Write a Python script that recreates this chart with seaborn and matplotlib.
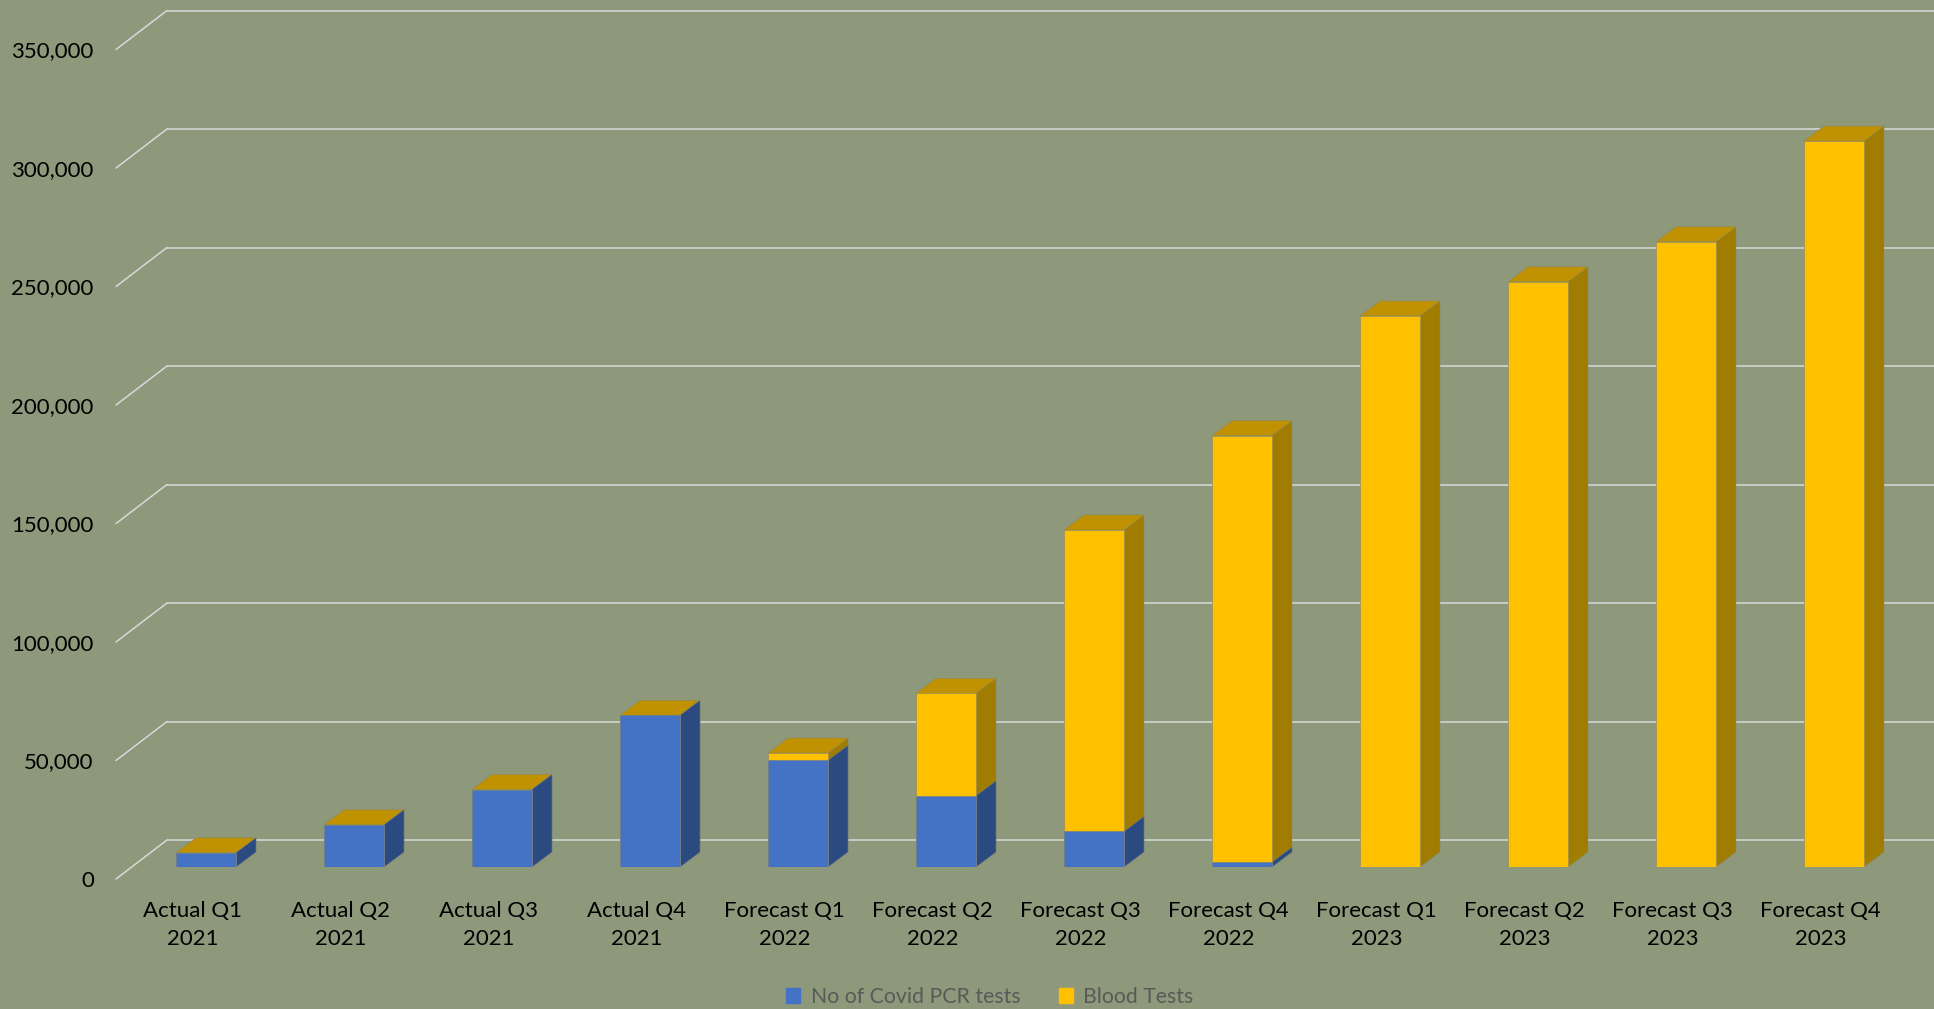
import matplotlib
matplotlib.use('Agg')
import pandas as pd
import matplotlib.pyplot as plt
import seaborn as sns
from matplotlib.patches import Polygon, Patch
from matplotlib.ticker import StrMethodFormatter
from matplotlib.transforms import ScaledTranslation

# %% data
quarters = ['Actual Q1\n2021', 'Actual Q2\n2021', 'Actual Q3\n2021', 'Actual Q4\n2021',
            'Forecast Q1\n2022', 'Forecast Q2\n2022', 'Forecast Q3\n2022', 'Forecast Q4\n2022',
            'Forecast Q1\n2023', 'Forecast Q2\n2023', 'Forecast Q3\n2023', 'Forecast Q4\n2023']
pcr_tests = [6000, 17800, 32700, 64000, 45000, 30000, 15000, 2000, 0, 0, 0, 0]
blood_tests = [0, 0, 0, 0, 3100, 43300, 127200, 180000, 232500, 246900, 263800, 306300]
y_ticks = [0, 50000, 100000, 150000, 200000, 250000, 300000, 350000]

bg = '#8E987B'
grid_col = '#D9D9D9'
blue, blue_side = '#4472C4', '#2B4A80'
gold, gold_side, gold_top = '#FFC000', '#A07D00', '#C09100'

sns.set_style('white', rc={'axes.facecolor': bg, 'figure.facecolor': bg})
plt.rcParams['font.family'] = ['Lato', 'DejaVu Sans']

W, H = 1934, 1009
fig = plt.figure(figsize=(W / 100, H / 100), dpi=100)
left, right, bottom, top = 132, 1899, 867, 37.5   # pixel box of the bar plane
slot = 148                                       # pixels per category
ax = fig.add_axes([left / W, 1 - bottom / H, (right - left) / W, (bottom - top) / H])

df = pd.DataFrame({'quarter': quarters, 'pcr': pcr_tests, 'blood': blood_tests})
df['total'] = df['pcr'] + df['blood']

bw = 60 / slot
sns.barplot(data=df, x='quarter', y='total', color=gold, saturation=1, width=bw,
            errorbar=None, ax=ax, zorder=4, edgecolor='#8a8a60', linewidth=0.4)
sns.barplot(data=df, x='quarter', y='pcr', color=blue, saturation=1, width=bw,
            errorbar=None, ax=ax, zorder=5, edgecolor='#6a7a90', linewidth=0.4)

xmax = -0.5 + (right - left) / slot
ax.set_xlim(-0.5, xmax)
ax.set_ylim(0, 350000)
px = 1 / slot
py = 350000 / (bottom - top)

# walls: back gridlines + diagonal floor edges
for v in y_ticks:
    ax.plot([-0.5 - 16 * px, -0.5 + 35 * px], [v - 12 * py, v + 27 * py],
            color=grid_col, lw=1.1, clip_on=False, zorder=1)
    ax.plot([-0.5 + 35 * px, xmax + 35 * px], [v + 27 * py] * 2,
            color=grid_col, lw=1.1, clip_on=False, zorder=1)

# 3d look: sides and tops
dx, dy = 20 * px, 15 * py
bars = ax.patches
n = len(quarters)
for p in bars[:n]:
    x0, w, h = p.get_x(), p.get_width(), p.get_height()
    ax.add_patch(Polygon([(x0 + w, 0), (x0 + w + dx, dy), (x0 + w + dx, h + dy), (x0 + w, h)],
                         closed=True, fc=gold_side, ec='#8a8a60', lw=0.4, zorder=3, clip_on=False))
    ax.add_patch(Polygon([(x0, h), (x0 + w, h), (x0 + w + dx, h + dy), (x0 + dx, h + dy)],
                         closed=True, fc=gold_top, ec='#8a8a60', lw=0.4, zorder=3, clip_on=False))
for p in bars[n:2 * n]:
    x0, w, h = p.get_x(), p.get_width(), p.get_height()
    if h <= 0:
        continue
    ax.add_patch(Polygon([(x0 + w, 0), (x0 + w + dx, dy), (x0 + w + dx, h + dy), (x0 + w, h)],
                         closed=True, fc=blue_side, ec='#6a7a90', lw=0.4, zorder=3.5, clip_on=False))

ax.set_xlim(-0.5, xmax)
ax.set_ylim(0, 350000)

# axes text
ax.set_yticks(y_ticks)
ax.yaxis.set_major_formatter(StrMethodFormatter('{x:,.0f}'))
ax.tick_params(axis='y', length=0, pad=16, labelsize=16, labelcolor='black')
ax.tick_params(axis='x', length=0, pad=15.5, labelsize=16, labelcolor='black')
front_y = ScaledTranslation(-16 / 100, -12 / 100, fig.dpi_scale_trans)
front_x = ScaledTranslation(-13.5 / 100, -12 / 100, fig.dpi_scale_trans)
for lab in ax.get_yticklabels():
    lab.set_transform(lab.get_transform() + front_y)
for lab in ax.get_xticklabels():
    lab.set_transform(lab.get_transform() + front_x)
    lab.set_linespacing(1.5)
ax.set_xlabel('')
ax.set_ylabel('')
sns.despine(ax=ax, left=True, bottom=True)
ax.grid(False)

handles = [Patch(color=blue, label='No of Covid PCR tests'),
           Patch(color=gold, label='Blood Tests')]
fig.legend(handles=handles, loc='center', bbox_to_anchor=(990 / W, 1 - 997 / H), ncol=2,
           frameon=False, fontsize=15.3, labelcolor='#595959', handlelength=0.66,
           handleheight=0.66, handletextpad=0.5, columnspacing=1.8)

fig.savefig('out.png', dpi=100, facecolor=bg)
